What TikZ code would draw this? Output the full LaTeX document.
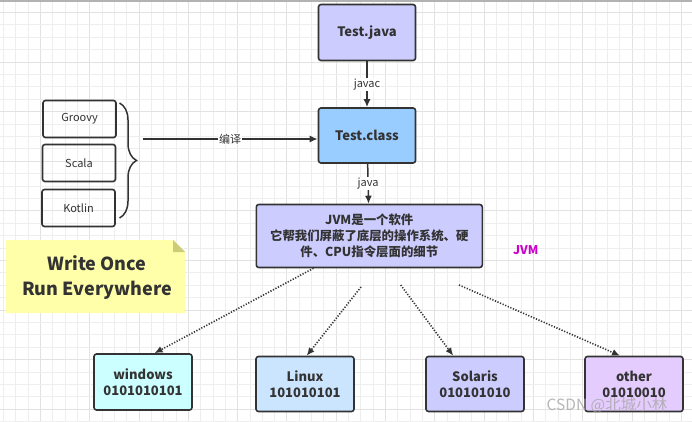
\documentclass[tikz,border=0pt]{standalone}
\usepackage{fontspec}
\setmainfont{Noto Sans CJK SC}
\usepackage{xcolor}
\usepackage{tikz}
\usetikzlibrary{arrows.meta,positioning,calc,decorations.pathreplacing}
\definecolor{ink}{RGB}{51,51,51}
\definecolor{gridc}{RGB}{238,238,238}
\definecolor{gridm}{RGB}{226,226,226}
\definecolor{javafill}{RGB}{204,204,255}
\definecolor{classfill}{RGB}{153,204,255}
\definecolor{winfill}{RGB}{204,255,255}
\definecolor{linfill}{RGB}{204,229,255}
\definecolor{othfill}{RGB}{229,204,255}
\definecolor{notefill}{RGB}{255,255,170}
\definecolor{notefold}{RGB}{204,204,119}
\definecolor{jvmtag}{RGB}{204,0,204}

\tikzset{
  box/.style={draw=ink,line width=1.6pt,rounded corners=2.5pt,text=ink,
              align=center,font=\bfseries\fontsize{13}{16}\selectfont},
  langbox/.style={draw=ink,line width=1.6pt,rounded corners=2.5pt,text=ink,
              minimum width=73,minimum height=37,font=\fontsize{11}{13}\selectfont},
  flow/.style={-{Latex[length=8pt,width=7pt]},line width=1.5pt,draw=ink},
  port/.style={-{Latex[length=8pt,width=7pt]},line width=1.6pt,draw=ink,
               dash pattern=on 1.2pt off 1.6pt},
  tag/.style={fill=white,inner sep=1pt,text=ink,font=\fontsize{11}{13}\selectfont},
}

\begin{document}
\begin{tikzpicture}[x=1pt,y=-1pt]
\useasboundingbox (0,0) rectangle (692,422);
% background grid
\fill[white] (0,0) rectangle (692,422);
\foreach \i in {0,...,56}{
  \pgfmathtruncatemacro{\m}{mod(\i,4)}
  \ifnum\m=3 \def\gc{gridm}\else\def\gc{gridc}\fi
  \draw[\gc,line width=0.8pt] ({3.3+12.33*\i},0) -- ++(0,422);
}
\foreach \j in {1,...,34}{
  \pgfmathtruncatemacro{\m}{mod(\j,4)}
  \ifnum\m=1 \def\gc{gridm}\else\def\gc{gridc}\fi
  \draw[\gc,line width=0.8pt] (0,{12.4*\j}) -- ++(692,0);
}
\draw[gray!60,line width=1.2pt] (0,1) -- (692,1);

% compile chain
\node[box,fill=javafill,minimum width=97,minimum height=56] (java) at (367,32.5) {Test.java};
\node[box,fill=classfill,minimum width=97,minimum height=55] (class) at (367,135.5) {Test.class};
\node[box,fill=javafill,minimum width=226,minimum height=63,
      font=\bfseries\fontsize{12.4}{16}\selectfont] (jvm) at (369.3,236)
  {JVM是一个软件\\它帮我们屏蔽了底层的操作系统、硬\\件、CPU指令层面的细节};
\node[text=jvmtag,font=\bfseries\fontsize{12}{14}\selectfont] (jvmtag) at (525.7,250) {JVM};

\draw[flow] (java) -- node[tag] {javac} (class);
\draw[flow] (class) -- node[tag] {java} (jvm);

% other languages
\node[langbox] (groovy) at (79.5,119) {Groovy};
\node[langbox] (scala) at (79,163) {Scala};
\node[langbox] (kotlin) at (78.5,208) {Kotlin};
\draw[ink,line width=1.5pt,decorate,decoration={brace,amplitude=17pt}]
  (119.5,103) -- (119.5,218);
\coordinate (brc) at (142.7,139);
\draw[flow] (brc) -- node[tag] {编译} (brc -| class.west);

% note
\fill[notefill] (6,240) -- (173,240) -- (185,252) -- (185,313) -- (6,313) -- cycle;
\fill[notefold] (173,240) -- (185,252) -- (173,252) -- cycle;
\node[text=ink,align=center,font=\bfseries\fontsize{18}{25}\selectfont] (motto) at (97,277)
  {Write Once\\Run Everywhere};

% platforms
\node[box,fill=winfill,minimum width=98,minimum height=56] (win) at (143,382) {windows\\0101010101};
\node[box,fill=linfill,minimum width=98,minimum height=55] (lin) at (305,384) {Linux\\101010101};
\node[box,fill=javafill,minimum width=98,minimum height=55] (sol) at (475,384) {Solaris\\010101010};
\node[box,fill=othfill,minimum width=98,minimum height=55] (oth) at (634,384) {other\\01010010};

\coordinate (pw) at ($(jvm.south west)+(58,0)$);
\coordinate (pl) at (361,287);
\coordinate (ps) at (400.7,285);
\coordinate (po) at (459,285);
\draw[port] (pw) -- ($(win.north)+(11.5,0)$);
\draw[port] (pl) -- ($(lin.north)+(1.7,0)$);
\draw[port] (ps) -- ($(sol.north)+(-21.8,0)$);
\draw[port] (po) -- ($(oth.north)+(-14,0)$);

% watermark
\node[text=gray!70,opacity=0.8,font=\fontsize{15.5}{17}\selectfont] (mark) at (607,405) {CSDN @北城小林};
\end{tikzpicture}
\end{document}
